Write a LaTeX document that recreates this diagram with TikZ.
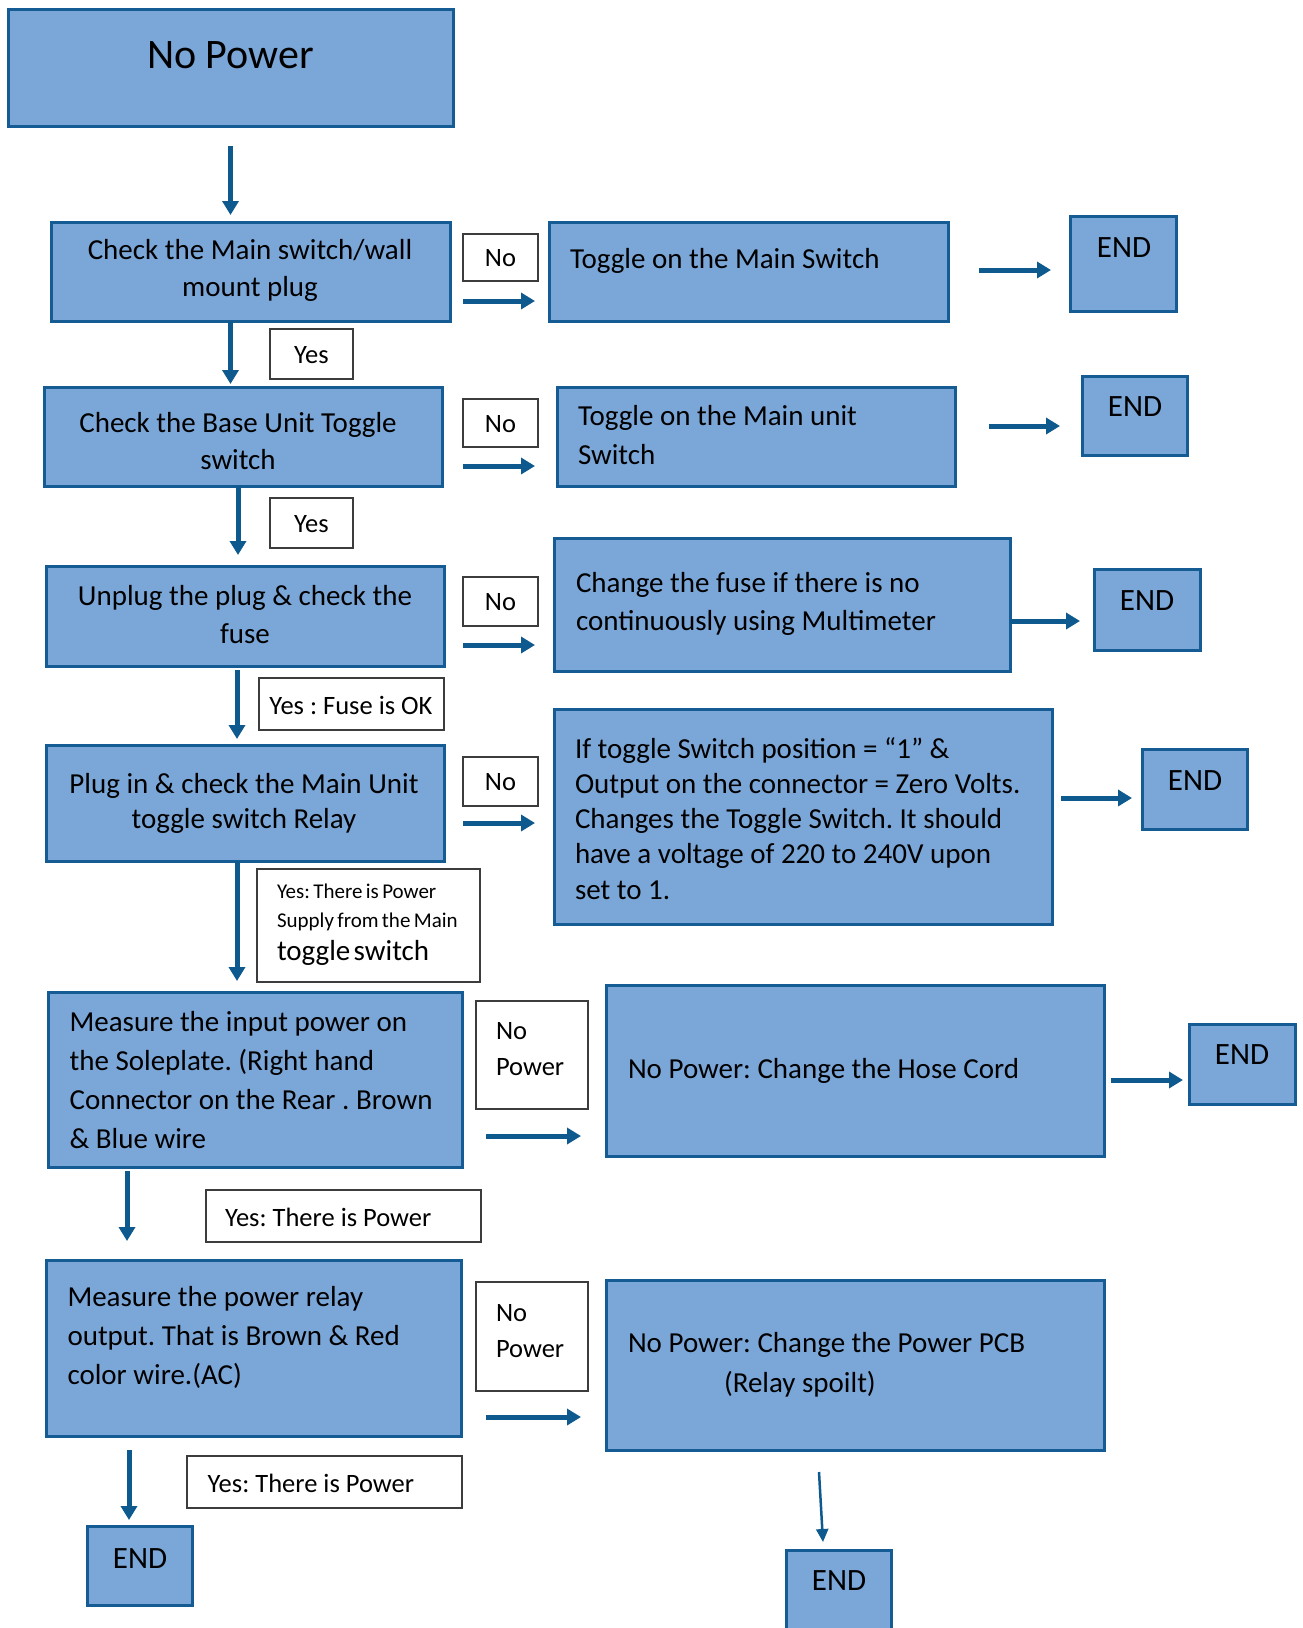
\documentclass[tikz,border=0pt]{standalone}
\usepackage{fontspec}
\setmainfont{Carlito}
\usetikzlibrary{arrows.meta}
\setlength\parindent{0pt}
\frenchspacing
\definecolor{boxfill}{RGB}{123,166,216}
\definecolor{boxline}{RGB}{22,92,148}
\definecolor{arrowc}{RGB}{14,90,142}
\definecolor{lblline}{RGB}{60,60,60}
\newcommand\rectnode[6]{\node[#1, minimum width={#5-#3}, minimum height={#6-#4}] (#2) at ({(#3+#5)/2},{(#4+#6)/2}) {};}
\begin{document}
\begin{tikzpicture}[x=1pt,y=-1pt,
  bx/.style={draw=boxline, fill=boxfill, line width=3pt, inner sep=0pt, outer sep=0pt},
  lb/.style={draw=lblline, fill=white, line width=1.5pt, inner sep=0pt, outer sep=0pt},
  tx/.style={inner sep=0pt, outer sep=0pt, text=black, execute at begin node=\frenchspacing},
  big/.style={tx, font=\fontsize{29}{#1}\selectfont},
  small/.style={tx, font=\fontsize{26.5}{#1}\selectfont},
  endt/.style={tx, font=\fontsize{31}{36}\selectfont},
  ar/.style={draw=arrowc, line width=5pt, -{Triangle[width=16pt,length=14pt]}},
  thinar/.style={draw=arrowc, line width=2.5pt, -{Triangle[width=12pt,length=13pt]}}]
\useasboundingbox (0,0) rectangle (1302,1628);
\clip (0,0) rectangle (1302,1628);

% main boxes
\rectnode{bx}{np}{8}{9}{453}{126}
\rectnode{bx}{c1}{51}{222}{450}{321}
\rectnode{bx}{t1}{549}{222}{948}{321}
\rectnode{bx}{e1}{1070}{216}{1176}{311}
\rectnode{bx}{c2}{44}{387}{442}{486}
\rectnode{bx}{t2}{557}{387}{955}{486}
\rectnode{bx}{e2}{1082}{376}{1187}{455}
\rectnode{bx}{c3}{46}{566}{444}{666}
\rectnode{bx}{t3}{554}{538}{1010}{671}
\rectnode{bx}{e3}{1094}{569}{1200}{650}
\rectnode{bx}{c4}{46}{745}{444}{861}
\rectnode{bx}{t4}{554}{709}{1052}{924}
\rectnode{bx}{e4}{1142}{749}{1247}{829}
\rectnode{bx}{c5}{48}{992}{462}{1167}
\rectnode{bx}{t5}{606}{985}{1104}{1156}
\rectnode{bx}{e5}{1189}{1024}{1295}{1104}
\rectnode{bx}{c6}{46}{1260}{461}{1436}
\rectnode{bx}{t6}{606}{1280}{1104}{1450}
\rectnode{bx}{e6}{87}{1526}{192}{1605}
\rectnode{bx}{e7}{786}{1550}{891}{1660}

% label boxes
\rectnode{lb}{y1}{270}{329}{353}{379}
\rectnode{lb}{y2}{270}{498}{353}{548}
\rectnode{lb}{n1}{463}{234}{538}{281}
\rectnode{lb}{n2}{463}{399}{538}{447}
\rectnode{lb}{n3}{463}{577}{538}{626}
\rectnode{lb}{n4}{463}{757}{538}{806}
\rectnode{lb}{y3}{259}{678}{444}{730}
\rectnode{lb}{y4}{257}{869}{480}{982}
\rectnode{lb}{n5}{476}{1001}{588}{1109}
\rectnode{lb}{y5}{206}{1190}{481}{1242}
\rectnode{lb}{n6}{476}{1282}{588}{1391}
\rectnode{lb}{y6}{187}{1456}{462}{1508}

% texts
\node[tx, font=\fontsize{42}{48}\selectfont] (npt) at (230.5,55) {No Power};
\node[big=37, align=center] (c1t) at (250,270.5) {Check the Main switch/wall\\mount plug};
\node[big=36.4, align=center] (c2t) at (238,441) {Check the Base Unit Toggle\\switch};
\node[big=38, align=center] (c3t) at (245,615) {Unplug the plug \& check the\\fuse};
\node[big=35, align=center] (c4t) at (244,803.5) {Plug in \& check the Main Unit\\toggle switch Relay};
\node[big=38.7, align=left, anchor=west] (c5t) at (69.6,1080) {Measure the input power on\\the Soleplate. (Right hand\\Connector on the Rear . Brown\\\& Blue wire};
\node[big=39, align=left, anchor=west] (c6t) at (67.5,1337) {Measure the power relay\\output. That is Brown \& Red\\color wire.(AC)};

\node[big=36, anchor=west] (t1t) at (570,260.6) {Toggle on the Main Switch};
\node[big=39, align=left, anchor=west] (t2t) at (578,435.5) {Toggle on the Main unit\\Switch};
\node[big=38.5, align=left, anchor=west] (t3t) at (576,603.7) {Change the fuse if there is no\\continuously using Multimeter};
\node[big=35.3, align=left, anchor=west] (t4t) at (575,818.3) {If toggle Switch position = “1” \&\\Output on the connector = Zero Volts.\\Changes the Toggle Switch. It should\\have a voltage of 220 to 240V upon\\set to 1.};
\node[big=36, anchor=west] (t5t) at (628,1070.5) {No Power: Change the Hose Cord};
\node[big=40.5, align=left, anchor=west] (t6t) at (628,1365) {No Power: Change the Power PCB\\\hspace*{96pt}(Relay spoilt)};

\node[endt] (e1t) at (1124,248) {END};
\node[endt] (e2t) at (1135,407) {END};
\node[endt] (e3t) at (1147,601) {END};
\node[endt] (e4t) at (1195,781) {END};
\node[endt] (e5t) at (1242,1055) {END};
\node[endt] (e6t) at (140,1558.5) {END};
\node[endt] (e7t) at (839,1581) {END};

\node[small=30] (y1t) at (311.5,355) {Yes};
\node[small=30] (y2t) at (311.5,524) {Yes};
\node[small=30] (n1t) at (500.5,258.5) {No};
\node[small=30] (n2t) at (500.5,423.6) {No};
\node[small=30] (n3t) at (500.5,602.5) {No};
\node[small=30] (n4t) at (500.5,782.5) {No};
\node[small=30] (y3t) at (351,705) {Yes : Fuse is OK};
\node[tx, text width=210pt, anchor=west] (y4t) at (277,925) {\fontsize{21}{29}\selectfont Yes: There is Power\par Supply from the Main\par\fontsize{29}{33}\selectfont toggle switch\par};
\node[small=36, align=left, anchor=west] (n5t) at (496,1049) {No\\Power};
\node[small=36, align=left, anchor=west] (n6t) at (496,1330.6) {No\\Power};
\node[small=30, anchor=west] (y5t) at (225,1217) {Yes: There is Power};
\node[small=30, anchor=west] (y6t) at (207.7,1483.7) {Yes: There is Power};

% arrow endpoints
\coordinate (a0s) at (230.5,146); \coordinate (a0e) at (230.5,215);
\coordinate (a1s) at (230.5,321); \coordinate (a1e) at (230.5,384);
\coordinate (a2s) at (238,486);   \coordinate (a2e) at (238,555);
\coordinate (a3s) at (237,670);   \coordinate (a3e) at (237,739);
\coordinate (a4s) at (237,861);   \coordinate (a4e) at (237,981);
\coordinate (a5s) at (127,1171);  \coordinate (a5e) at (127,1241);
\coordinate (a6s) at (129,1450);  \coordinate (a6e) at (129,1520);
\coordinate (a7s) at (819,1472);  \coordinate (a7e) at (823,1542);
\coordinate (h1s) at (463,301);   \coordinate (h1e) at (535,301);
\coordinate (r1s) at (979,270);   \coordinate (r1e) at (1051,270);
\coordinate (h2s) at (463,466);   \coordinate (h2e) at (535,466);
\coordinate (r2s) at (989,426);   \coordinate (r2e) at (1060,426);
\coordinate (h3s) at (463,645);   \coordinate (h3e) at (535,645);
\coordinate (r3s) at (1010,621);  \coordinate (r3e) at (1080,621);
\coordinate (h4s) at (463,823);   \coordinate (h4e) at (535,823);
\coordinate (r4s) at (1061,798);  \coordinate (r4e) at (1132,798);
\coordinate (h5s) at (486,1136);  \coordinate (h5e) at (581,1136);
\coordinate (r5s) at (1111,1080); \coordinate (r5e) at (1183,1080);
\coordinate (h6s) at (486,1417);  \coordinate (h6e) at (581,1417);

\foreach \a in {a0,a1,a2,a3,a4,a5,a6,h1,r1,h2,r2,h3,r3,h4,r4,h5,r5,h6}
  \draw[ar] (\a s) -- (\a e);
\draw[thinar] (a7s) -- (a7e);
\end{tikzpicture}
\end{document}
